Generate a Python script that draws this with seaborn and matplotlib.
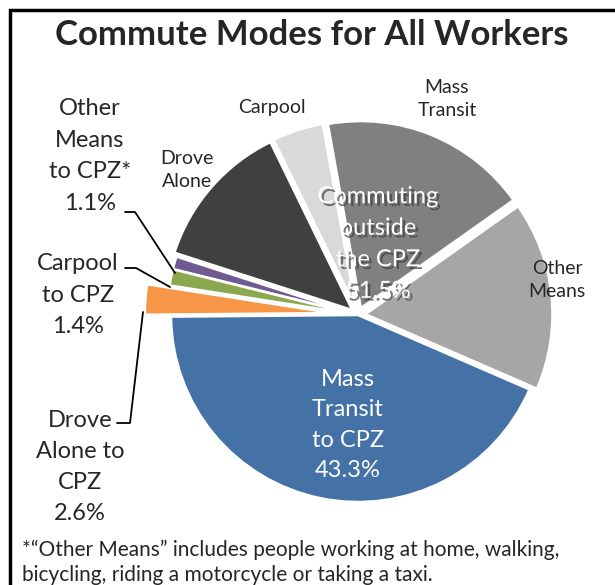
import matplotlib
matplotlib.use("Agg")
import matplotlib.pyplot as plt
import matplotlib.patheffects as pe
from matplotlib.patches import Rectangle
import seaborn as sns

# data (shares in %, counter-clockwise from the left)
modes = ["Mass Transit to CPZ", "Other Means", "Mass Transit", "Carpool",
         "Drove Alone", "Other Means to CPZ", "Carpool to CPZ", "Drove Alone to CPZ"]
shares = [43.3, 16.3, 18.0, 4.4, 12.8, 1.1, 1.4, 2.6]
colors = ["#4471A6", "#A6A6A6", "#808080", "#D9D9D9",
          "#404040", "#6F5A92", "#8CA84F", "#F79646"]
explode = [0, 0.04, 0.04, 0.04, 0.04, 0.02, 0.02, 0.14]
outside_total = 51.5

sns.set_theme(style="white")
plt.rcParams['font.family'] = ['Lato', 'DejaVu Sans']

W, H = 615, 585
fig = plt.figure(figsize=(W / 100, H / 100), dpi=100)
ax = fig.add_axes([0, 0, 1, 1])
ax.axis('off')

cx, cy, r = 358, H - 315, 187
# matplotlib's explode offset is in data units, so scale it by the radius
wedges, _ = ax.pie(shares, colors=colors, explode=[e * r for e in explode],
                   startangle=180.5, counterclock=True, center=(cx, cy), radius=r,
                   normalize=True, wedgeprops=dict(edgecolor='white', linewidth=1.8))
ax.set_xlim(0, W)
ax.set_ylim(0, H)
ax.set_aspect('equal')


def Y(y):
    return H - y


# inner labels
ax.text(348, Y(425), f"Mass\nTransit\nto CPZ\n{shares[0]}%", color='white',
        fontsize=17, ha='center', va='center', linespacing=1.53)
ax.text(378, Y(244), f"Commuting\noutside\nthe CPZ\n{outside_total}%", color='white',
        fontsize=17, ha='center', va='center', linespacing=1.62,
        path_effects=[pe.withSimplePatchShadow(offset=(2, -2), shadow_rgbFace='#404040', alpha=0.7)])

# outside small labels
ax.text(187, Y(170), "Drove\nAlone", fontsize=14, ha='center', va='center', linespacing=1.45)
ax.text(272, Y(108), "Carpool", fontsize=14, ha='center', va='center')
ax.text(447, Y(99), "Mass\nTransit", fontsize=14, ha='center', va='center', linespacing=1.45)
ax.text(557, Y(280), "Other\nMeans", fontsize=14, ha='center', va='center', linespacing=1.45)

# CPZ small slices labels with leader lines
ax.text(90, Y(156), f"Other\nMeans\nto CPZ*\n{shares[5]}%", fontsize=17,
        ha='center', va='center', linespacing=1.62)
ax.text(78, Y(295), f"Carpool\nto CPZ\n{shares[6]}%", fontsize=17,
        ha='center', va='center', linespacing=1.6)
ax.text(80, Y(467), f"Drove\nAlone to\nCPZ\n{shares[7]}%", fontsize=17,
        ha='center', va='center', linespacing=1.6)

ax.plot([125, 135, 175], [Y(212), Y(212), Y(273)], color='black', lw=1.3)
ax.plot([125, 136, 170], [Y(268), Y(268), Y(287)], color='black', lw=1.3)
ax.plot([117, 130, 143], [Y(423), Y(423), Y(312)], color='black', lw=1.3)

# title and footnote
ax.text(312, Y(35), "Commute Modes for All Workers", fontsize=25, fontweight='bold',
        ha='center', va='center')
ax.text(22, Y(562), "*\u201cOther Means\u201d includes people working at home, walking,\n"
        "bicycling, riding a motorcycle or taking a taxi.", fontsize=15,
        ha='left', va='center', linespacing=1.3)

# frame
ax.add_patch(Rectangle((9.5, -20), 700, H - 9.5 + 20, fill=False, edgecolor='black',
                       linewidth=2.5, clip_on=False))

fig.savefig("out.png", dpi=100)
